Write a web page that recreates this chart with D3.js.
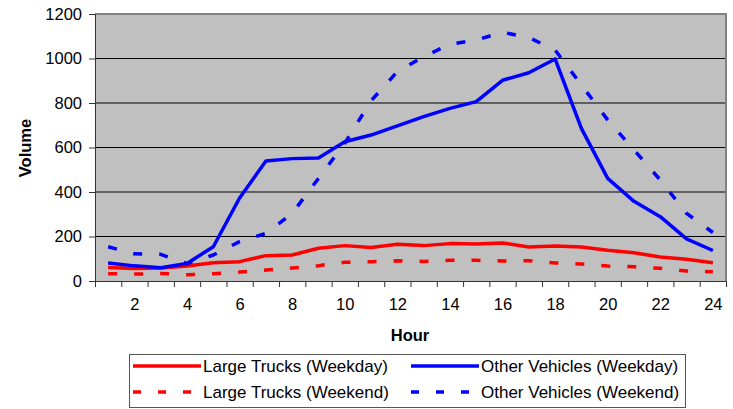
<!DOCTYPE html>
<html>
<head>
<meta charset="utf-8">
<script src="https://cdn.jsdelivr.net/npm/d3@7"></script>
<style>
  body { margin: 0; background: #fff; }
  text { font-family: "Liberation Sans", Arial, sans-serif; }
</style>
</head>
<body>
<div id="chart"></div>
<script>
// hourly volumes
const hours = [1, 2, 3, 4, 5, 6, 7, 8, 9, 10, 11, 12, 13, 14, 15, 16, 17, 18, 19, 20, 21, 22, 23, 24];
const hourLabels = [2, 4, 6, 8, 10, 12, 14, 16, 18, 20, 22, 24];
const volumeTicks = [0, 200, 400, 600, 800, 1000, 1200];

const largeTrucksWeekday = [61, 56, 58, 67, 82, 87, 114, 117, 147, 159, 151, 165, 159, 168, 166, 171, 153, 157, 153, 138, 127, 108, 98, 82];
const otherVehiclesWeekday = [81, 68, 60, 79, 154, 373, 539, 550, 553, 626, 656, 697, 739, 776, 806, 902, 936, 998, 686, 461, 358, 289, 189, 137];
const largeTrucksWeekend = [33, 31, 34, 28, 33, 40, 49, 58, 69, 84, 87, 91, 88, 93, 93, 90, 91, 81, 76, 67, 64, 57, 45, 42];
const otherVehiclesWeekend = [154, 122, 120, 78, 117, 177, 214, 304, 461, 619, 810, 941, 1008, 1064, 1083, 1118, 1094, 1038, 881, 724, 589, 454, 304, 218];

const seriesNames = ['Large Trucks (Weekday)', 'Other Vehicles (Weekday)', 'Large Trucks (Weekend)', 'Other Vehicles (Weekend)'];

const series = [
  { name: seriesNames[0], values: largeTrucksWeekday, color: '#ff0000', dash: null },
  { name: seriesNames[1], values: otherVehiclesWeekday, color: '#0000ff', dash: null },
  { name: seriesNames[2], values: largeTrucksWeekend, color: '#ff0000', dash: '9,17' },
  { name: seriesNames[3], values: otherVehiclesWeekend, color: '#0000ff', dash: '9,17' },
];

const width = 733, height = 409;
const margin = { top: 14, right: 7, bottom: 128, left: 95 };
const innerW = width - margin.left - margin.right;
const innerH = height - margin.top - margin.bottom;

const svg = d3.select('#chart')
  .append('svg')
  .attr('width', width)
  .attr('height', height);

const g = svg.append('g')
  .attr('transform', `translate(${margin.left},${margin.top})`);

// categories sit in the middle of each hour slot
const x = d3.scaleLinear().domain([0.5, 24.5]).range([0, innerW]);
const y = d3.scaleLinear().domain([0, 1200]).range([innerH, 0]);

// plot background
g.append('rect')
  .attr('width', innerW)
  .attr('height', innerH)
  .attr('fill', '#c0c0c0');

// gridlines
g.selectAll('.grid')
  .data(volumeTicks.filter((d) => d > 0 && d < 1200))
  .join('line')
  .attr('x1', 0)
  .attr('x2', innerW)
  .attr('y1', (d) => y(d))
  .attr('y2', (d) => y(d))
  .attr('stroke', '#000')
  .attr('stroke-width', 1);

// top and right frame
g.append('path')
  .attr('d', `M0,${y(1200)}H${innerW}V${innerH}`)
  .attr('fill', 'none')
  .attr('stroke', '#808080')
  .attr('stroke-width', 2);

// y axis
const yAxis = g.append('g')
  .call(d3.axisLeft(y).tickValues(volumeTicks).tickFormat(d3.format('d')).tickSize(6).tickPadding(7));
yAxis.select('.domain').attr('stroke', '#333');
yAxis.selectAll('.tick line').attr('stroke', '#333');
yAxis.selectAll('text')
  .attr('font-size', 16.5)
  .attr('fill', '#000')
  .style('font-family', '"Liberation Sans", Arial, sans-serif');

// x axis: tick marks on slot edges, labels every other hour
const edges = d3.range(0, 25).map((i) => i + 0.5);
const xAxis = g.append('g')
  .attr('transform', `translate(0,${innerH})`)
  .call(d3.axisBottom(x).tickValues(edges).tickFormat('').tickSize(6).tickSizeOuter(0));
xAxis.select('.domain').attr('stroke', '#333');
xAxis.selectAll('.tick line').attr('stroke', '#333');

const xLabels = g.append('g')
  .attr('transform', `translate(0,${innerH})`)
  .call(d3.axisBottom(x).tickValues(hourLabels).tickSize(0).tickPadding(17));
xLabels.select('.domain').remove();
xLabels.selectAll('text')
  .attr('font-size', 16.5)
  .attr('fill', '#000')
  .style('font-family', '"Liberation Sans", Arial, sans-serif');

// lines
const line = d3.line()
  .x((d, i) => x(hours[i]))
  .y((d) => y(d));

g.selectAll('.series')
  .data(series)
  .join('path')
  .attr('d', (d) => line(d.values))
  .attr('fill', 'none')
  .attr('stroke', (d) => d.color)
  .attr('stroke-width', 3.5)
  .attr('stroke-linejoin', 'round')
  .attr('stroke-dasharray', (d) => d.dash);

// axis titles
svg.append('text')
  .attr('x', 410)
  .attr('y', 341)
  .attr('text-anchor', 'middle')
  .attr('font-size', 16.5)
  .attr('font-weight', 'bold')
  .text('Hour');

svg.append('text')
  .attr('transform', 'translate(31,148) rotate(-90)')
  .attr('text-anchor', 'middle')
  .attr('font-size', 16.5)
  .attr('font-weight', 'bold')
  .text('Volume');

// legend
const legend = svg.append('g');
legend.append('rect')
  .attr('x', 129.5)
  .attr('y', 354.5)
  .attr('width', 556)
  .attr('height', 53)
  .attr('fill', '#fff')
  .attr('stroke', '#555')
  .attr('stroke-width', 1);

const cols = [133, 411];
const rows = [366, 392];
const items = legend.selectAll('.item')
  .data(series)
  .join('g')
  .attr('transform', (d, i) => `translate(${cols[i % 2]},${rows[Math.floor(i / 2)]})`);

items.append('line')
  .attr('x1', 0)
  .attr('x2', 68)
  .attr('stroke', (d) => d.color)
  .attr('stroke-width', 3.5)
  .attr('stroke-dasharray', (d) => (d.dash ? '8,17' : null));

items.append('text')
  .attr('x', 70)
  .attr('dy', '0.35em')
  .attr('font-size', 17)
  .text((d) => d.name);
</script>
</body>
</html>
